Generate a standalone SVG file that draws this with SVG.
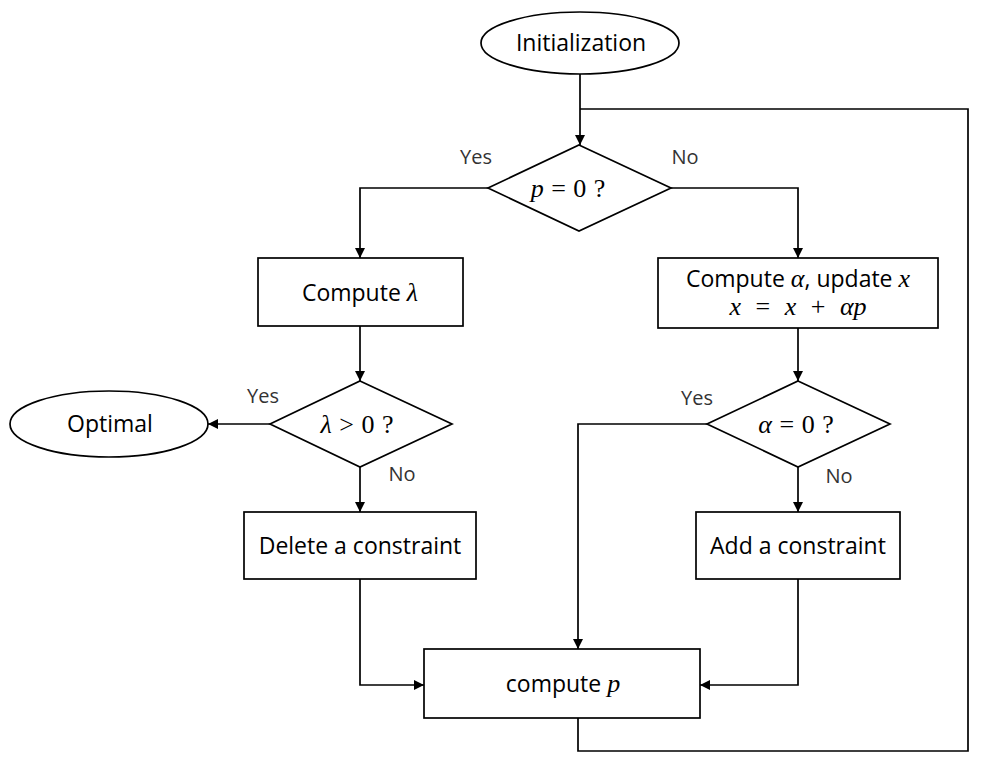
<svg xmlns="http://www.w3.org/2000/svg" width="982" height="764" viewBox="0 0 982 764">
<defs>
<marker id="arr" viewBox="0 0 10 10" refX="10" refY="5" markerWidth="10" markerHeight="10" markerUnits="userSpaceOnUse" orient="auto">
<path d="M0,0 L10,5 L0,10 z" fill="#000"/>
</marker>
<style>
.s{fill:#fff;stroke:#000;stroke-width:1.7}
.c{fill:none;stroke:#000;stroke-width:1.7}
.t{font-family:"Open Sans","Liberation Sans",sans-serif;font-size:23px;fill:#000;text-anchor:middle}
.m{font-family:"Liberation Serif",serif;font-style:italic;font-size:26px}
.n{font-family:"Liberation Serif",serif;font-style:normal;font-size:26px}
.l{font-family:"Open Sans","Liberation Sans",sans-serif;font-size:20px;fill:#333;text-anchor:middle}
</style>
</defs>
<rect width="982" height="764" fill="#fff"/>
<g id="connectors">
<path class="c" d="M580,74 V145" marker-end="url(#arr)"/>
<path class="c" d="M578,718 V751 H968 V109 H580"/>
<path class="c" d="M488,188 H360 V258" marker-end="url(#arr)"/>
<path class="c" d="M671,188 H798 V258" marker-end="url(#arr)"/>
<path class="c" d="M360,326 V381" marker-end="url(#arr)"/>
<path class="c" d="M798,328 V381" marker-end="url(#arr)"/>
<path class="c" d="M270,424 H208" marker-end="url(#arr)"/>
<path class="c" d="M360,467 V512" marker-end="url(#arr)"/>
<path class="c" d="M798,467 V512" marker-end="url(#arr)"/>
<path class="c" d="M707,424 H578 V649" marker-end="url(#arr)"/>
<path class="c" d="M360,579 V685 H424" marker-end="url(#arr)"/>
<path class="c" d="M798,579 V685 H700" marker-end="url(#arr)"/>
<text class="l" x="476" y="164">Yes</text>
<text class="l" x="685" y="164">No</text>
<text class="l" x="263" y="403">Yes</text>
<text class="l" x="402" y="481">No</text>
<text class="l" x="697" y="405">Yes</text>
<text class="l" x="839" y="483">No</text>
</g>
<g id="init">
<ellipse class="s" cx="580" cy="43" rx="99" ry="31"/>
<text class="t" x="581" y="51">Initialization</text>
</g>
<g id="d1">
<polygon class="s" points="579,145 671,188 579,231 488,188"/>
<text class="t" x="568" y="197" word-spacing="1"><tspan class="m">p</tspan><tspan class="n"> = 0 ?</tspan></text>
</g>
<g id="lambda">
<rect class="s" x="258" y="258" width="205" height="68"/>
<text class="t" x="360" y="301">Compute <tspan class="m">λ</tspan></text>
</g>
<g id="alpha">
<rect class="s" x="658" y="258" width="280" height="70"/>
<text class="t" x="798" y="287">Compute <tspan class="m">α</tspan>, update <tspan class="m">x</tspan></text>
<text class="t" x="798" y="315" word-spacing="8"><tspan class="m">x</tspan><tspan class="n"> = </tspan><tspan class="m">x</tspan><tspan class="n"> + </tspan><tspan class="m">αp</tspan></text>
</g>
<g id="d2">
<polygon class="s" points="360,381 452,424 360,467 270,424"/>
<text class="t" x="357" y="433" word-spacing="1"><tspan class="m">λ</tspan><tspan class="n"> &gt; 0 ?</tspan></text>
</g>
<g id="d3">
<polygon class="s" points="798,381 890,424 798,467 707,424"/>
<text class="t" x="796" y="433" word-spacing="1"><tspan class="m">α</tspan><tspan class="n"> = 0 ?</tspan></text>
</g>
<g id="optimal">
<ellipse class="s" cx="109" cy="424" rx="99" ry="33"/>
<text class="t" x="110" y="432">Optimal</text>
</g>
<g id="delete">
<rect class="s" x="244" y="512" width="232" height="67"/>
<text class="t" x="360" y="554">Delete a constraint</text>
</g>
<g id="add">
<rect class="s" x="696" y="512" width="204" height="67"/>
<text class="t" x="798" y="554">Add a constraint</text>
</g>
<g id="computep">
<rect class="s" x="424" y="649" width="276" height="69"/>
<text class="t" x="563" y="692">compute <tspan class="m">p</tspan></text>
</g>
</svg>
